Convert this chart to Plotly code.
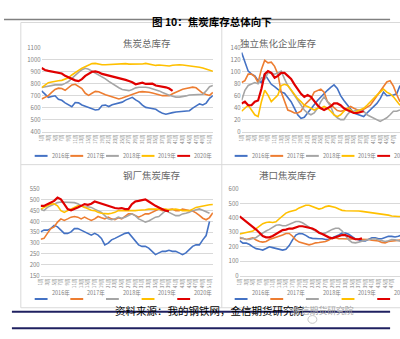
import plotly.graph_objects as go

W, H = 400, 339
FONT = "Noto Sans CJK SC, sans-serif"

years = ["2016年", "2017年", "2018年", "2019年", "2020年"]
colors = ["#4472C4", "#ED7D31", "#A5A5A5", "#FFC000", "#E00000"]

# ---- 焦炭总库存 (top-left), weeks 1..52
tl_2016 = [740, 712, 686, 693, 699, 670, 661, 640, 622, 607, 643, 640, 622, 611, 598, 586, 580, 585, 618, 621,
           609, 624, 633, 636, 646, 663, 678, 686, 665, 648, 621, 602, 597, 593, 586, 567, 552, 545, 549, 558,
           564, 568, 572, 572, 574, 596, 617, 631, 622, 638, 678, 700]
tl_2017 = [672, 686, 700, 727, 752, 763, 760, 745, 766, 790, 795, 780, 760, 720, 703, 720, 736, 733, 718, 708,
           700, 692, 682, 673, 680, 690, 700, 714, 722, 730, 734, 733, 729, 722, 713, 706, 700, 700, 700, 716,
           730, 745, 754, 760, 768, 771, 766, 740, 720, 710, 702, 727]
tl_2018 = [768, 775, 781, 786, 790, 790, 790, 803, 818, 845, 872, 895, 917, 929, 921, 906, 888, 877, 860, 840,
           820, 800, 787, 766, 752, 746, 742, 752, 765, 770, 773, 770, 767, 760, 753, 740, 727, 713, 703, 696,
           688, 688, 691, 698, 706, 708, 708, 710, 712, 740, 775, 785]
tl_2019 = [768, 790, 809, 815, 822, 825, 828, 839, 849, 873, 896, 912, 929, 943, 957, 968, 970, 961, 958, 958,
           960, 963, 966, 970, 972, 968, 964, 964, 963, 960, 965, 970, 965, 956, 953, 956, 954, 948, 948, 955,
           958, 958, 956, 953, 951, 947, 943, 938, 931, 921, 911, 904]
tl_2020 = [931, 915, 907, 903, 898, 891, 885, 866, 852, 840, 828, 822, 838, 865, 882, 900, 903, 896, 882, 875,
           872, 865, 858, 850, 840, 832, 822, 812, 795, 800, 808, 798, 800, 800, 785, 781, 780, 770, 760, 740]

# ---- 独立焦化企业库存 (top-right), weeks 1..49 visible
tr_2016 = [132, 115, 101, 96, 93, 85, 82, 96, 88, 79, 75, 71, 66, 64, 57, 50, 39, 28, 22, 24,
           31, 39, 45, 52, 58, 63, 69, 74, 78, 72, 60, 52, 45, 37, 31, 29, 27, 25, 31, 36,
           42, 47, 55, 66, 60, 60, 61, 63, 77]
tr_2017 = [82, 85, 96, 96, 92, 82, 104, 119, 115, 116, 109, 96, 66, 50, 36, 34, 31, 31, 34, 44,
           50, 55, 66, 69, 71, 66, 50, 45, 40, 35, 34, 35, 38, 42, 39, 37, 34, 37, 40, 44,
           52, 60, 69, 76, 83, 85, 76, 62, 50]
tr_2018 = [52, 69, 77, 79, 82, 80, 90, 88, 98, 98, 96, 98, 101, 88, 77, 69, 61, 52, 44, 36,
           31, 28, 31, 39, 50, 58, 50, 42, 28, 23, 20, 20, 28, 34, 34, 36, 36, 34, 28, 25,
           23, 20, 17, 20, 23, 28, 34, 34, 36]
tr_2019 = [34, 39, 44, 36, 28, 25, 50, 69, 61, 50, 55, 61, 77, 79, 77, 69, 63, 55, 50, 44,
           42, 39, 36, 39, 39, 42, 39, 34, 28, 25, 28, 34, 39, 36, 31, 34, 36, 39, 44, 50,
           55, 61, 66, 71, 66, 63, 58, 50, 44]
tr_2020 = [47, 50, 44, 44, 50, 52, 71, 96, 101, 98, 90, 93, 98, 98, 93, 88, 79, 71, 63, 58,
           61, 58, 50, 44, 39, 36, 39, 42, 47, 47, 44, 39, 36, 34, 31, 31, 32, 34]

# ---- 钢厂焦炭库存 (bottom-left), weeks 1..52
bl_2016 = [352, 360, 360, 367, 382, 375, 360, 345, 345, 352, 367, 367, 360, 352, 345, 337, 345, 337, 322, 292,
           300, 315, 322, 330, 337, 345, 348, 330, 315, 292, 285, 285, 277, 262, 247, 255, 262, 262, 267, 262,
           262, 255, 247, 255, 270, 285, 292, 292, 315, 335, 400]
bl_2017 = [318, 322, 345, 367, 375, 397, 412, 405, 412, 420, 423, 420, 412, 420, 412, 405, 412, 423, 417, 412,
           420, 412, 408, 417, 412, 423, 435, 435, 427, 420, 427, 435, 435, 442, 452, 457, 450, 452, 457, 457,
           450, 450, 457, 452, 450, 448, 440, 428, 415, 408, 418, 440]
bl_2018 = [457, 450, 465, 472, 482, 487, 490, 490, 490, 490, 487, 482, 472, 465, 468, 465, 457, 450, 442, 427,
           412, 408, 412, 420, 415, 420, 427, 435, 427, 412, 405, 397, 402, 412, 420, 423, 435, 450, 442, 435,
           427, 427, 435, 438, 442, 450, 455, 458, 452, 445, 438]
bl_2019 = [457, 465, 472, 480, 482, 472, 450, 442, 450, 457, 465, 472, 472, 465, 457, 452, 450, 442, 438, 435,
           435, 438, 442, 450, 450, 447, 447, 450, 450, 452, 452, 454, 457, 457, 457, 457, 460, 457, 454, 457,
           457, 454, 450, 450, 450, 457, 465, 468, 472, 475, 477, 478]
bl_2020 = [472, 472, 480, 487, 495, 510, 502, 480, 457, 452, 457, 465, 472, 480, 477, 482, 492, 487, 480, 477,
           472, 465, 462, 460, 462, 457, 457, 480, 492, 495, 498, 502, 492, 480, 472, 465, 457, 450, 447]

# ---- 港口焦炭库存 (bottom-right), weeks 1..50 visible
br_2016 = [243, 225, 225, 215, 199, 187, 182, 177, 188, 200, 194, 187, 182, 177, 183, 208, 248, 281, 292, 290,
           279, 264, 258, 255, 255, 255, 250, 252, 261, 267, 281, 295, 295, 286, 270, 255, 248, 240, 240, 250,
           262, 262, 255, 255, 264, 272, 272, 268, 273, 281]
br_2017 = [258, 258, 250, 256, 262, 247, 236, 232, 236, 250, 258, 262, 270, 281, 292, 292, 273, 247, 232, 227,
           219, 213, 219, 227, 229, 232, 236, 247, 262, 262, 255, 255, 255, 255, 255, 255, 255, 255, 255, 250,
           245, 243, 240, 230, 227, 236, 240, 240, 245, 247]
br_2018 = [265, 258, 250, 250, 255, 264, 281, 298, 309, 320, 334, 349, 352, 345, 345, 356, 368, 375, 375, 366,
           351, 334, 320, 309, 298, 290, 296, 309, 320, 328, 328, 309, 275, 247, 230, 227, 232, 240, 245, 250,
           255, 255, 248, 240, 236, 242, 250, 248, 240, 236]
br_2019 = [288, 292, 298, 303, 309, 326, 346, 360, 368, 371, 368, 373, 394, 416, 433, 442, 447, 455, 469, 480,
           487, 487, 478, 467, 461, 467, 478, 483, 480, 472, 461, 452, 449, 449, 452, 452, 447, 445, 442, 438,
           438, 435, 429, 425, 422, 419, 413, 409, 409, 409]
br_2020 = [411, 393, 378, 360, 337, 319, 297, 274, 265, 265, 274, 288, 297, 315, 319, 326, 326, 333, 342, 342,
           337, 333, 326, 315, 297, 288, 274, 265, 258, 265, 274, 281, 281, 270, 258, 252, 252, 258]

panels = [
    ("焦炭总库存", [tl_2016, tl_2017, tl_2018, tl_2019, tl_2020], [400, 1100], 100, [1, 52]),
    ("独立焦化企业库存", [tr_2016, tr_2017, tr_2018, tr_2019, tr_2020], [0, 140], 20, [1, 49]),
    ("钢厂焦炭库存", [bl_2016, bl_2017, bl_2018, bl_2019, bl_2020], [150, 550], 50, [1, 52]),
    ("港口焦炭库存", [br_2016, br_2017, br_2018, br_2019, br_2020], [0, 600], 100, [1, 49.5]),
]
week_ticks = list(range(1, 53, 2))
week_text = [f"{w}周" for w in week_ticks]


def px(x):
    return x / W


def py(y):
    return 1 - y / H


# pixel boxes: (x0, x1, y_top, y_bottom)
boxes = [(38, 211, 44, 130), (240, 400, 44, 130), (37, 211, 189, 278), (238, 400, 189, 278)]
title_pos = [(118, 30), (318, 30), (118, 175), (318, 175)]
legend_pos = [(31, 155), (233, 155), (31, 302), (233, 302)]

fig = go.Figure()
layout = dict(
    width=W, height=H, margin=dict(l=0, r=0, t=0, b=0),
    paper_bgcolor="white", plot_bgcolor="white", showlegend=False,
    font=dict(family=FONT, color="#595959"),
)
annotations = []
shapes = []

for i, (title, series, yr, dt, xr) in enumerate(panels):
    n = "" if i == 0 else str(i + 1)
    x0, x1, yt, yb = boxes[i]
    layout["xaxis" + n] = dict(
        domain=[px(x0), px(x1)], range=xr, anchor="y" + n,
        tickvals=week_ticks, ticktext=week_text, tickangle=-90,
        tickfont=dict(size=4.6, color="#7F7F7F", family=FONT),
        showgrid=False, zeroline=False, showline=True, linecolor="#D9D9D9", linewidth=1,
        ticks="", fixedrange=True,
    )
    layout["yaxis" + n] = dict(
        domain=[py(yb), py(yt)], range=yr, anchor="x" + n, dtick=dt,
        tickfont=dict(size=6, color="#7F7F7F", family=FONT),
        showgrid=True, gridcolor="#D9D9D9", gridwidth=0.8, zeroline=False, showline=False,
        ticks="", fixedrange=True,
    )
    for k, vals in enumerate(series):
        fig.add_trace(go.Scatter(
            x=list(range(1, len(vals) + 1)), y=vals, mode="lines",
            line=dict(color=colors[k], width=2.2 if k == 4 else 1.6),
            xaxis="x" + n, yaxis="y" + n, name=years[k], cliponaxis=True,
        ))
    tx, ty = title_pos[i]
    annotations.append(dict(x=px(tx), y=py(ty), xref="paper", yref="paper", text=title,
                            showarrow=False, font=dict(size=9.5, color="#666666", family=FONT)))
    lx, ly = legend_pos[i]
    for k in range(5):
        sx = lx + 36 * k
        shapes.append(dict(type="line", xref="paper", yref="paper", x0=px(sx), x1=px(sx + 13),
                           y0=py(ly), y1=py(ly), line=dict(color=colors[k], width=2)))
        annotations.append(dict(x=px(sx + 15), y=py(ly), xref="paper", yref="paper", text=years[k],
                                xanchor="left", showarrow=False,
                                font=dict(size=5.5, color="#7F7F7F", family=FONT)))

# panel frames
frame = "#D9D9D9"
for (a, b, c, d) in [(17, 18, 400, 18), (17, 164, 400, 164), (17, 311, 400, 311),
                     (17, 18, 17, 311), (220, 18, 220, 311)]:
    shapes.append(dict(type="line", xref="paper", yref="paper", x0=px(a), y0=py(b), x1=px(c), y1=py(d),
                       line=dict(color=frame, width=1)))

# header
annotations.append(dict(x=px(210), y=py(7), xref="paper", yref="paper",
                        text="<b>图 10：焦炭库存总体向下</b>", showarrow=False,
                        font=dict(size=10.5, color="#000000", family=FONT)))
shapes.append(dict(type="line", xref="paper", yref="paper", x0=0, x1=px(390), y0=py(15), y1=py(15),
                   line=dict(color="#808080", width=1.5)))

# footer
for yy in (315, 332):
    shapes.append(dict(type="line", xref="paper", yref="paper", x0=px(8), x1=px(390), y0=py(yy), y1=py(yy),
                       line=dict(color="#1F2060", width=2)))
annotations.append(dict(x=px(208), y=py(323.5), xref="paper", yref="paper",
                        text="资料来源：我的钢铁网，金信期货研究院", showarrow=False,
                        font=dict(size=10.5, color="#000000", family=FONT)))
annotations.append(dict(x=px(356), y=py(323), xref="paper", yref="paper",
                        text="金信期货研究院", showarrow=False,
                        font=dict(size=8.8, color="#A6A6A6", family=FONT)))
shapes.append(dict(type="circle", xref="paper", yref="paper", x0=px(307), x1=px(316), y0=py(327), y1=py(319),
                   line=dict(color="#C8C8C8", width=1)))

layout["annotations"] = annotations
layout["shapes"] = shapes
fig.update_layout(**layout)
fig.write_html("out.html")
